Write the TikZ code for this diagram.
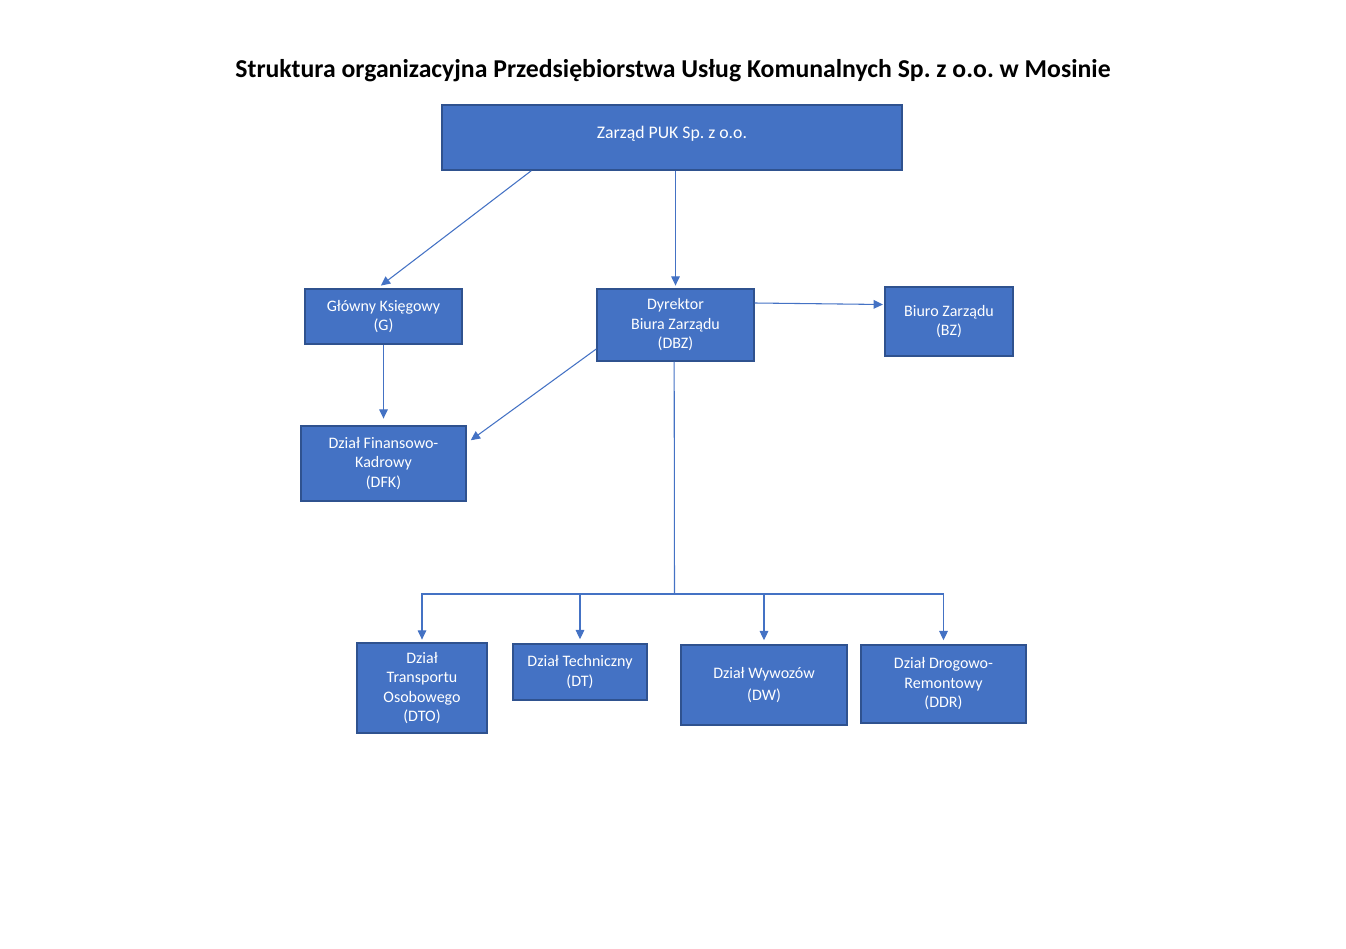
\documentclass[tikz,border=0pt]{standalone}
\usepackage{fontspec}
\setmainfont{Carlito}
\usetikzlibrary{arrows.meta}
\definecolor{boxfill}{HTML}{4472C4}
\definecolor{boxline}{HTML}{2F528F}
\frenchspacing
\begin{document}
\begin{tikzpicture}[x=0.75pt, y=-0.75pt,
    unit/.style={draw=boxline, fill=boxfill, line width=1.1pt, text=white,
        font=\fontsize{12}{14.6}\selectfont, align=center, inner sep=0pt},
    link/.style={draw=boxfill, line width=0.8pt},
    arr/.style={link, -{Triangle[length=7pt,width=6.5pt]}}]
    \useasboundingbox (0,0) rectangle (1346,949);

    % Title
    \node[font=\fontsize{19.3}{23}\selectfont\bfseries] (title) at (673,71)
        {Struktura organizacyjna Przedsiębiorstwa Usług Komunalnych Sp. z o.o. w Mosinie};

    % Top level
    \node[unit, font=\fontsize{13.3}{16}\selectfont, minimum width=460*0.75pt, minimum height=65*0.75pt]
        (zarzad) at (672,137.5) {\raisebox{7pt}{Zarząd PUK Sp. z o.o.}};

    % Second level
    \node[unit, minimum width=157*0.75pt, minimum height=55*0.75pt] (g) at (383.5,316.5)
        {Główny Księgowy\\(G)};
    \node[unit, minimum width=157*0.75pt, minimum height=72*0.75pt] (dbz) at (675.5,325)
        {Dyrektor\\Biura Zarządu\\(DBZ)};
    \node[unit, minimum width=128*0.75pt, minimum height=69*0.75pt] (bz) at (949,321.5)
        {Biuro Zarządu\\(BZ)};
    \node[unit, minimum width=165*0.75pt, minimum height=75*0.75pt] (dfk) at (383.5,463.5)
        {Dział Finansowo-\\Kadrowy\\(DFK)};

    % Departments
    \node[unit, minimum width=130*0.75pt, minimum height=90*0.75pt] (dto) at (422,688)
        {Dział\\Transportu\\Osobowego\\(DTO)};
    \node[unit, minimum width=134*0.75pt, minimum height=56*0.75pt] (dt) at (580,672)
        {Dział Techniczny\\(DT)};
    \node[unit, minimum width=166*0.75pt, minimum height=80*0.75pt] (dw) at (764,685)
        {Dział Wywozów\\[2pt](DW)};
    \node[unit, minimum width=165*0.75pt, minimum height=78*0.75pt] (ddr) at (943.5,684)
        {Dział Drogowo-\\Remontowy\\(DDR)};

    % Connectors
    \draw[arr] ([xshift=90*0.75pt]zarzad.south west) -- ([xshift=-2pt,yshift=2pt]g.north);
    \draw[arr] (zarzad.south -| dbz.north) -- ([yshift=2pt]dbz.north);
    \draw[arr, shorten >=5pt] (g.south) -- (dfk.north);
    \draw[arr] ([yshift=-24*0.75pt]dbz.west) -- ([xshift=3pt,yshift=-15*0.75pt]dfk.north east);
    \draw[arr] ([yshift=22*0.75pt]dbz.east) -- ([xshift=-1pt,yshift=17*0.75pt]bz.west);

    % Branch to departments
    \coordinate (bus) at (674.5,594);
    \draw[link] ([xshift=-1pt]dbz.south) -- (bus);
    \draw[arr, shorten >=2pt] (bus) -| (dto.north);
    \draw[arr, shorten >=3pt] (bus) -| (dt.north);
    \draw[arr, shorten >=3pt] (bus) -| (dw.north);
    \draw[arr, shorten >=3pt] (bus) -| (ddr.north);
\end{tikzpicture}
\end{document}
